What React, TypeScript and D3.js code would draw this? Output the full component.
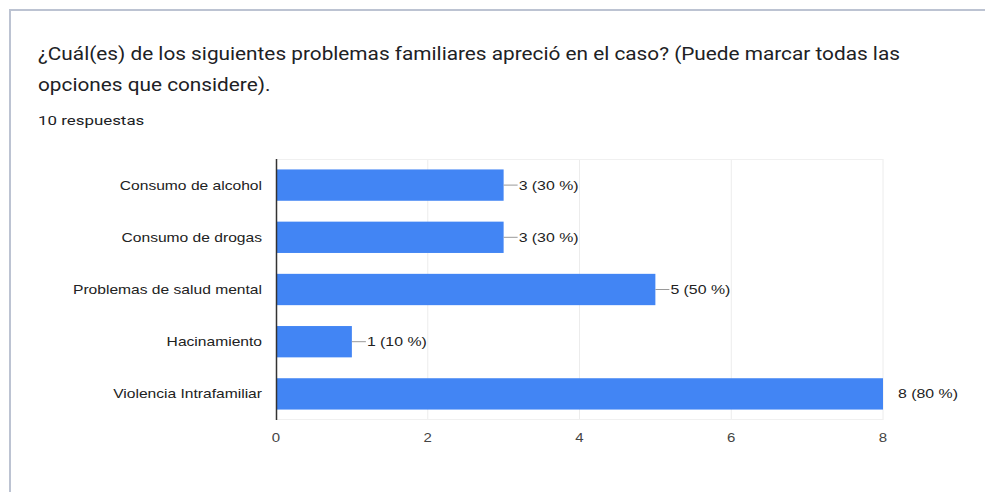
import React, { useEffect, useRef } from "react";
import * as d3 from "d3";

const categories = [
  "Consumo de alcohol",
  "Consumo de drogas",
  "Problemas de salud mental",
  "Hacinamiento",
  "Violencia Intrafamiliar",
];
const counts = [3, 3, 5, 1, 8];
const percents = [30, 30, 50, 10, 80];
const xTicks = [0, 2, 4, 6, 8];

const titleLines = [
  "¿Cuál(es) de los siguientes problemas familiares apreció en el caso? (Puede marcar todas las",
  "opciones que considere).",
];
const subtitle = "10 respuestas";

const App: React.FC = () => {
  const svgRef = useRef<SVGSVGElement>(null);

  useEffect(() => {
    if (!svgRef.current) return;
    const svg = d3.select(svgRef.current);
    svg.selectAll("*").remove();

    // card frame
    svg
      .append("rect")
      .attr("x", 10)
      .attr("y", 10)
      .attr("width", 990)
      .attr("height", 500)
      .attr("fill", "#fff")
      .attr("stroke", "#bcc3d2")
      .attr("stroke-width", 2);

    // the screenshot is stretched sideways, so text gets a horizontal scale
    const place = (px: number, py: number, sx: number) =>
      `translate(${px},${py}) scale(${sx},1)`;

    // title
    svg
      .append("g")
      .selectAll("text")
      .data(titleLines)
      .enter()
      .append("text")
      .attr("transform", (_, i) => place(38, 60 + i * 31, 1.155))
      .style("font-family", "Roboto, 'Noto Sans', sans-serif")
      .style("font-size", "18px")
      .style("fill", "#202124")
      .text((d) => d);

    svg
      .append("text")
      .attr("transform", place(38, 125, 1.3))
      .style("font-family", "Roboto, 'Noto Sans', sans-serif")
      .style("font-size", "13px")
      .style("fill", "#202124")
      .text(subtitle);

    const left = 276;
    const top = 159;
    const bottom = 420;

    const x = d3.scaleLinear().domain([0, 8]).range([left, left + 607]);
    const y = d3
      .scaleBand()
      .domain(categories)
      .range([top, bottom])
      .paddingInner(0.4)
      .paddingOuter(0.2);

    const font = "Arial, 'Liberation Sans', sans-serif";

    // gridlines
    svg
      .append("g")
      .selectAll("line")
      .data(xTicks.slice(1))
      .enter()
      .append("line")
      .attr("x1", (d) => x(d))
      .attr("x2", (d) => x(d))
      .attr("y1", top)
      .attr("y2", bottom)
      .attr("stroke", "#ececec")
      .attr("stroke-width", 1);

    svg
      .append("line")
      .attr("x1", left)
      .attr("x2", x(8))
      .attr("y1", top + 0.5)
      .attr("y2", top + 0.5)
      .attr("stroke", "#f0f0f0");
    svg
      .append("line")
      .attr("x1", left)
      .attr("x2", x(8))
      .attr("y1", bottom - 0.5)
      .attr("y2", bottom - 0.5)
      .attr("stroke", "#f0f0f0");

    // bars
    svg
      .append("g")
      .selectAll("rect")
      .data(counts)
      .enter()
      .append("rect")
      .attr("x", x(0))
      .attr("y", (_, i) => y(categories[i]) || 0)
      .attr("width", (d) => x(d) - x(0))
      .attr("height", y.bandwidth())
      .attr("fill", "#4285f4");

    // connectors + value labels
    const lbl = svg.append("g");
    counts.forEach((d, i) => {
      const cy = (y(categories[i]) || 0) + y.bandwidth() / 2;
      const outside = d < 8;
      if (outside) {
        lbl
          .append("line")
          .attr("x1", x(d))
          .attr("x2", x(d) + 14)
          .attr("y1", cy)
          .attr("y2", cy)
          .attr("stroke", "#999")
          .attr("stroke-width", 1);
      }
      lbl
        .append("text")
        .attr("transform", place(outside ? x(d) + 15 : x(d) + 15, cy + 4.5, 1.27))
        .style("font-family", font)
        .style("font-size", "12.5px")
        .style("fill", "#222")
        .text(`${d} (${percents[i]} %)`);
    });

    // category labels
    svg
      .append("g")
      .selectAll("text")
      .data(categories)
      .enter()
      .append("text")
      .attr("transform", (d) => place(left - 14, (y(d) || 0) + y.bandwidth() / 2 + 4.5, 1.25))
      .attr("text-anchor", "end")
      .style("font-family", font)
      .style("font-size", "12.5px")
      .style("fill", "#222")
      .text((d) => d);

    // baseline
    svg
      .append("line")
      .attr("x1", left + 0.5)
      .attr("x2", left + 0.5)
      .attr("y1", top)
      .attr("y2", bottom)
      .attr("stroke", "#333")
      .attr("stroke-width", 1.5);

    // tick labels
    svg
      .append("g")
      .selectAll("text")
      .data(xTicks)
      .enter()
      .append("text")
      .attr("transform", (d) => place(x(d), 442, 1.2))
      .attr("text-anchor", "middle")
      .style("font-family", font)
      .style("font-size", "12.5px")
      .style("fill", "#444")
      .text((d) => d);
  }, []);

  return (
    <svg
      ref={svgRef}
      width={985}
      height={492}
      style={{ position: "absolute", left: 0, top: 0, display: "block" }}
    />
  );
};

export default App;
